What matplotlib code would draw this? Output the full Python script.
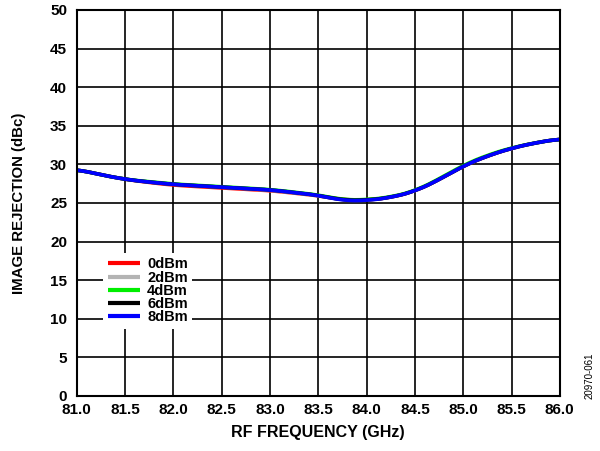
import matplotlib
matplotlib.use("Agg")
import matplotlib.pyplot as plt
import numpy as np

plt.rcParams['font.family'] = ['Liberation Sans', 'DejaVu Sans']
plt.rcParams['font.weight'] = 'bold'

freq = [81.0, 81.25, 81.5, 81.75, 82.0, 82.5, 83.0, 83.5, 83.75, 84.0, 84.25, 84.5, 84.75, 85.0, 85.25, 85.5, 85.75, 86.0]
p0 = [29.35, 28.65, 28.05, 27.65, 27.3, 26.95, 26.6, 25.95, 25.4, 25.35, 25.7, 26.5, 28.0, 29.8, 31.1, 32.1, 32.8, 33.3]
p2 = [29.35, 28.65, 28.05, 27.7, 27.4, 27.05, 26.65, 25.95, 25.35, 25.35, 25.7, 26.5, 28.0, 29.8, 31.1, 32.1, 32.8, 33.3]
p4 = [29.35, 28.65, 28.05, 27.75, 27.45, 27.1, 26.75, 26.05, 25.4, 25.4, 25.75, 26.55, 28.1, 29.9, 31.2, 32.15, 32.8, 33.3]
p6 = [29.35, 28.65, 28.05, 27.7, 27.4, 27.05, 26.7, 26.0, 25.35, 25.35, 25.7, 26.5, 28.0, 29.8, 31.1, 32.1, 32.8, 33.3]
p8 = [29.35, 28.65, 28.05, 27.7, 27.4, 27.05, 26.7, 26.0, 25.3, 25.3, 25.7, 26.5, 28.0, 29.8, 31.1, 32.1, 32.8, 33.3]

series = [("0dBm", p0, "#ff0000"), ("2dBm", p2, "#b4b4b4"), ("4dBm", p4, "#00ee00"),
          ("6dBm", p6, "#000000"), ("8dBm", p8, "#0000ff")]

fig = plt.figure(figsize=(6.0, 4.51), dpi=100)
ax = fig.add_axes([0.128, 0.122, 0.805, 0.856])

xs = np.linspace(81.0, 86.0, 300)
for name, vals, col in series:
    # smooth the read points with a moving average
    ys = np.interp(xs, freq, vals)
    k = 9
    ys_s = np.convolve(np.pad(ys, k, mode='edge'), np.ones(2 * k + 1) / (2 * k + 1), mode='same')[k:-k]
    ax.plot(xs, ys_s, color=col, lw=2.6, label=name, solid_capstyle='butt')

ax.set_xlim(81.0, 86.0)
ax.set_ylim(0, 50)
ax.set_xticks(np.arange(81.0, 86.01, 0.5))
ax.set_xticklabels([f"{v:.1f}" for v in np.arange(81.0, 86.01, 0.5)], fontweight='bold')
ax.set_yticks(range(0, 51, 5))
ax.set_yticklabels([str(v) for v in range(0, 51, 5)], fontweight='bold')
ax.grid(True, color='black', lw=1.2)
ax.tick_params(length=0, labelsize=11)
ax.tick_params(axis='x', pad=5)
ax.tick_params(axis='y', pad=7)
for s in ax.spines.values():
    s.set_linewidth(1.5)
ax.set_xlabel("RF FREQUENCY (GHz)", fontsize=11.5, fontweight='bold', labelpad=6)
ax.set_ylabel("IMAGE REJECTION (dBc)", fontsize=10.8, fontweight='bold', labelpad=17)

leg = ax.legend(loc='lower left', bbox_to_anchor=(0.04, 0.155), frameon=True, fancybox=False,
                edgecolor='none', facecolor='white', framealpha=1,
                prop={'size': 10.5, 'weight': 'bold'},
                handlelength=2.2, handletextpad=0.5, labelspacing=-0.05, borderpad=0.3)
for line in leg.get_lines():
    line.set_linewidth(3)

fig.text(0.983, 0.115, "20970-061", rotation=90, fontsize=7, fontweight='normal',
         ha='center', va='bottom')

fig.savefig("out.png", dpi=100)
